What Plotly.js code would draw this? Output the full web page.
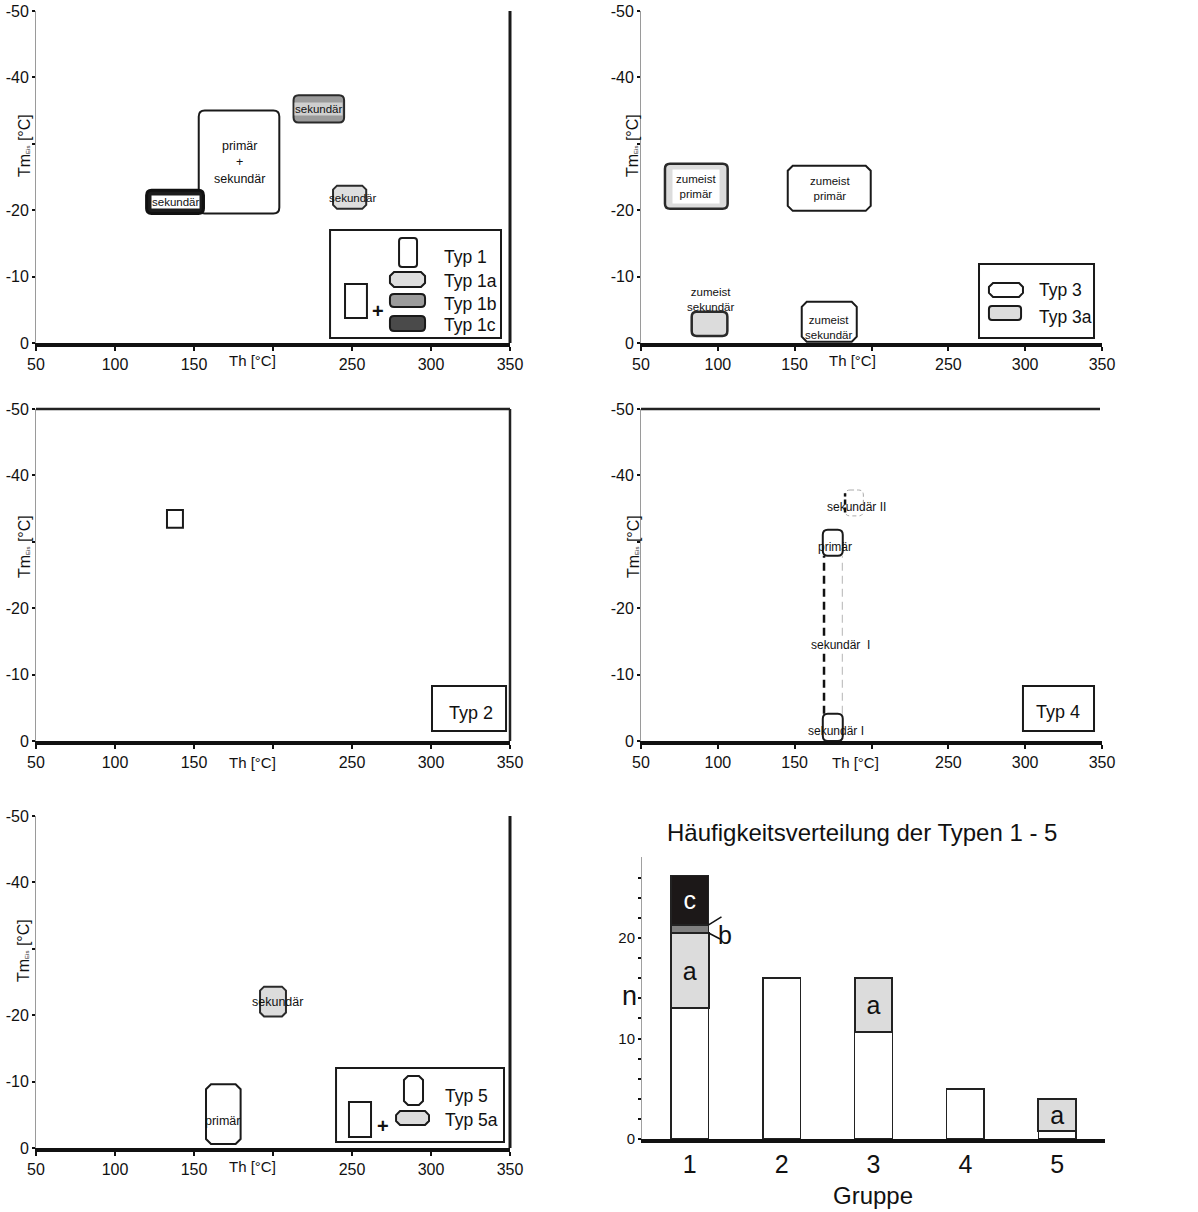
<!DOCTYPE html>
<html><head><meta charset="utf-8">
<script src="https://cdn.plot.ly/plotly-3.0.1.min.js"></script>
<style>body{margin:0;background:#fff}#chart{width:1198px;height:1212px}</style>
</head><body><div id="chart"></div>
<script>
// ---------------- DATA ----------------
// Panel 1 – Typ 1 (Th in °C, Tm_Eis in °C)
const p1Type    = ['1', '1c', '1b', '1a'];
const p1ThMin   = [153, 120, 213, 238];
const p1ThMax   = [204, 156, 245, 259];
const p1TmLow   = [-19.5, -19.5, -33.2, -20.2];
const p1TmHigh  = [-35.0, -23.0, -37.3, -23.7];
const p1Label   = ['primär<br>+<br>sekundär', 'sekundär', 'sekundär', 'sekundär'];
const p1LabelTh = [178.5, 138, 229, 250.5];
const p1LabelTm = [-27.2, -21.2, -35.3, -21.9];

// Panel 2 – Typ 3
const p2Type    = ['3a', '3', '3a', '3'];
const p2ThMin   = [65.6, 145.5, 83.0, 154.6];
const p2ThMax   = [106.4, 199.5, 106.2, 190.4];
const p2TmLow   = [-20.2, -19.9, -1.05, -0.2];
const p2TmHigh  = [-27.0, -26.7, -4.7, -6.2];
const p2Label   = ['zumeist<br>primär', 'zumeist<br>primär', 'zumeist<br>sekundär', 'zumeist<br>sekundär'];
const p2LabelTh = [85.6, 173, 95, 172.2];
const p2LabelTm = [-23.5, -23.2, -6.6, -2.3];

// Panel 3 – Typ 2
const p3ThMin  = [132.9];
const p3ThMax  = [143.0];
const p3TmLow  = [-32.1];
const p3TmHigh = [-34.8];

// Panel 4 – Typ 4
const p4Kind    = ['box', 'column', 'box', 'dashbox'];
const p4ThMin   = [168.3, 169.1, 168.3, 182.8];
const p4ThMax   = [181.3, 181.0, 181.3, 194.7];
const p4TmLow   = [-27.9, -4.1, 0.0, -33.9];
const p4TmHigh  = [-31.8, -27.9, -4.1, -37.8];
const p4Label   = ['primär', 'sekundär  I', 'sekundär I', 'sekundär II'];
const p4LabelTh = [176, 179.6, 177, 190];
const p4LabelTm = [-29.2, -14.5, -1.55, -35.3];

// Panel 5 – Typ 5
const p5Type    = ['5', '5a'];
const p5ThMin   = [157.6, 191.8];
const p5ThMax   = [179.5, 208.2];
const p5TmLow   = [-0.6, -19.8];
const p5TmHigh  = [-9.6, -24.3];
const p5Label   = ['primär', 'sekundär'];
const p5LabelTh = [168, 203];
const p5LabelTm = [-4.1, -22.0];

// Panel 6 – Häufigkeitsverteilung
const groups = [1, 2, 3, 4, 5];
const nBase  = [13.0, 16.0, 10.6, 5.0, 0.8];
const nA     = [7.5, null, 5.4, null, 3.2];
const nB     = [0.8, null, null, null, null];
const nC     = [4.9, null, null, null, null];

const thTicks = [50, 100, 150, 200, 250, 300, 350];
const thTickText = ['50', '100', '150', '', '250', '300', '350'];
const tmTicks = [0, -10, -20, -30, -40, -50];
const tmTickText = ['0', '-10', '-20', '', '-40', '-50'];

// ---------------- HELPERS ----------------
const W = 1198, H = 1212;
const FONT = 'Arial, "Liberation Sans", sans-serif';
const PX = x => x / W, PY = y => 1 - y / H;
const f = v => (+v).toFixed(4);

function boxPath(x0, x1, yA, yB, rx, ry, corner) {
  const s = yB > yA ? 1 : -1, dy = ry * s;
  const c = (cx, cy, px, py) =>
    corner === 'chamfer' ? `L${f(px)},${f(py)}` :
    corner === 'none' ? `L${f(cx)},${f(cy)}L${f(px)},${f(py)}` :
    `Q${f(cx)},${f(cy)} ${f(px)},${f(py)}`;
  return `M${f(x0 + rx)},${f(yA)}L${f(x1 - rx)},${f(yA)}` + c(x1, yA, x1, yA + dy) +
    `L${f(x1)},${f(yB - dy)}` + c(x1, yB, x1 - rx, yB) +
    `L${f(x0 + rx)},${f(yB)}` + c(x0, yB, x0, yB - dy) +
    `L${f(x0)},${f(yA + dy)}` + c(x0, yA, x0 + rx, yA) + 'Z';
}
// pixel-size radius to data units (Th px/unit, Tm px/unit per panel)
const scaleL = {th: 474 / 300, tm: 332 / 50};
const scaleR = {th: 461 / 300, tm: 332 / 50};

const typeStyle = {
  '1':  {fill: '#ffffff', line: '#1a1a1a', w: 2,   corner: 'round',   r: 6},
  '1a': {fill: '#dedede', line: '#2a2a2a', w: 2,   corner: 'chamfer', r: 4},
  '1b': {fill: '#9b9b9b', line: '#2a2a2a', w: 2,   corner: 'round',   r: 5},
  '1c': {fill: '#1c1c1c', line: '#111111', w: 3,   corner: 'round',   r: 5},
  '3':  {fill: '#ffffff', line: '#1a1a1a', w: 2,   corner: 'chamfer', r: 5},
  '3a': {fill: '#dcdcdc', line: '#2a2a2a', w: 2.5, corner: 'round',   r: 5},
  '5':  {fill: '#ffffff', line: '#1a1a1a', w: 2,   corner: 'chamfer', r: 5},
  '5a': {fill: '#dcdcdc', line: '#2a2a2a', w: 2,   corner: 'chamfer', r: 4}
};

const shapes = [];
const annotations = [];

function dataBox(xr, yr, sc, x0, x1, yA, yB, st, extra) {
  shapes.push(Object.assign({
    type: 'path', xref: xr, yref: yr, layer: 'above',
    path: boxPath(x0, x1, yA, yB, st.r / sc.th, st.r / sc.tm, st.corner),
    fillcolor: st.fill, line: {color: st.line, width: st.w}
  }, extra || {}));
}
function label(xr, yr, x, y, text, size, extra) {
  annotations.push(Object.assign({
    xref: xr, yref: yr, x: x, y: y, text: text, showarrow: false,
    font: {family: FONT, size: size, color: '#111'}, align: 'center'
  }, extra || {}));
}
function pxBox(x0, y0, x1, y1, r, corner, fill, lw) {
  shapes.push({
    type: 'path', xref: 'paper', yref: 'paper', layer: 'above',
    path: boxPath(PX(x0), PX(x1), PY(y0), PY(y1), r / W, r / H, corner),
    fillcolor: fill, line: {color: '#1a1a1a', width: lw}
  });
}
function pxText(x, y, text, size, xanchor, extra) {
  annotations.push(Object.assign({
    xref: 'paper', yref: 'paper', x: PX(x), y: PY(y), text: text, showarrow: false,
    xanchor: xanchor || 'center', yanchor: 'middle',
    font: {family: FONT, size: size, color: '#111'}
  }, extra || {}));
}
function pxLine(x0, y0, x1, y1, w, color) {
  shapes.push({type: 'line', xref: 'paper', yref: 'paper', layer: 'above',
    x0: PX(x0), y0: PY(y0), x1: PX(x1), y1: PY(y1), line: {color: color || '#1a1a1a', width: w}});
}

// ---------------- PANEL 1 ----------------
p1Type.forEach((t, i) => dataBox('x', 'y', scaleL, p1ThMin[i], p1ThMax[i], p1TmHigh[i], p1TmLow[i], typeStyle[t]));
p1Label.forEach((t, i) => {
  const bg = p1Type[i] === '1c' ? '#ffffff' : (p1Type[i] === '1b' ? '#cfcfcf' : 'rgba(0,0,0,0)');
  label('x', 'y', p1LabelTh[i], p1LabelTm[i], t, p1Type[i] === '1' ? 12.5 : 11.5, {bgcolor: bg, borderpad: 0});
});

// ---------------- PANEL 2 ----------------
p2Type.forEach((t, i) => dataBox('x2', 'y2', scaleR, p2ThMin[i], p2ThMax[i], p2TmHigh[i], p2TmLow[i], typeStyle[t]));
p2Label.forEach((t, i) => {
  const bg = i === 0 ? '#ffffff' : 'rgba(0,0,0,0)';
  label('x2', 'y2', p2LabelTh[i], p2LabelTm[i], t, 11.5, {bgcolor: bg, borderpad: 3});
});

// ---------------- PANEL 3 ----------------
p3ThMin.forEach((v, i) => dataBox('x3', 'y3', scaleL, p3ThMin[i], p3ThMax[i], p3TmHigh[i], p3TmLow[i],
  {fill: 'rgba(0,0,0,0)', line: '#1a1a1a', w: 2, corner: 'none', r: 0}));

// ---------------- PANEL 4 ----------------
p4Kind.forEach((k, i) => {
  if (k === 'box') {
    dataBox('x4', 'y4', scaleR, p4ThMin[i], p4ThMax[i], p4TmHigh[i], p4TmLow[i],
      {fill: 'rgba(0,0,0,0)', line: '#1a1a1a', w: 2, corner: 'round', r: 5});
  } else if (k === 'column') {
    shapes.push({type: 'line', xref: 'x4', yref: 'y4', layer: 'above', x0: p4ThMin[i], x1: p4ThMin[i],
      y0: p4TmLow[i], y1: p4TmHigh[i], line: {color: '#111', width: 2.5, dash: '8px,5px'}});
    shapes.push({type: 'line', xref: 'x4', yref: 'y4', layer: 'above', x0: p4ThMax[i], x1: p4ThMax[i],
      y0: p4TmLow[i], y1: p4TmHigh[i], line: {color: '#b5b5b5', width: 1, dash: '8px,5px'}});
  } else {
    dataBox('x4', 'y4', scaleR, p4ThMin[i], p4ThMax[i], p4TmHigh[i], p4TmLow[i],
      {fill: 'rgba(0,0,0,0)', line: '#aaaaaa', w: 1, corner: 'round', r: 5}, {line: {color: '#aaaaaa', width: 1, dash: '4px,3px'}});
    shapes.push({type: 'line', xref: 'x4', yref: 'y4', layer: 'above', x0: p4ThMin[i], x1: p4ThMin[i],
      y0: p4TmLow[i] - 0.5, y1: p4TmHigh[i] + 0.5, line: {color: '#111', width: 2.5, dash: '5px,3px'}});
  }
});
p4Label.forEach((t, i) => label('x4', 'y4', p4LabelTh[i], p4LabelTm[i], t, 12,
  {bgcolor: p4Kind[i] === 'column' ? '#ffffff' : 'rgba(0,0,0,0)', borderpad: 0}));

// ---------------- PANEL 5 ----------------
p5Type.forEach((t, i) => dataBox('x5', 'y5', scaleL, p5ThMin[i], p5ThMax[i], p5TmHigh[i], p5TmLow[i], typeStyle[t]));
p5Label.forEach((t, i) => label('x5', 'y5', p5LabelTh[i], p5LabelTm[i], t, 12.5));

// ---------------- PANEL 6 (bars) ----------------
const barBase = {type: 'bar', xaxis: 'x6', yaxis: 'y6', width: 0.41, constraintext: 'none',
  textposition: 'inside', insidetextanchor: 'middle', textangle: 0, hoverinfo: 'skip'};
const traces = [
  Object.assign({}, barBase, {x: groups, y: nBase, marker: {color: '#ffffff', line: {color: '#222', width: 1.5}}}),
  Object.assign({}, barBase, {x: groups, y: nA, text: nA.map(v => v ? 'a' : ''),
    textfont: {family: FONT, size: 25, color: '#111'}, marker: {color: '#dcdcdc', line: {color: '#222', width: 2}}}),
  Object.assign({}, barBase, {x: groups, y: nB, marker: {color: '#808080', line: {color: '#222', width: 1.5}}}),
  Object.assign({}, barBase, {x: groups, y: nC, text: nC.map(v => v ? 'c' : ''),
    textfont: {family: FONT, size: 25, color: '#ffffff'}, marker: {color: '#1c1818', line: {color: '#222', width: 1.5}}})
];
// pointer for "b"
const bBot = nBase[0] + nA[0], bTop = bBot + nB[0], bx = groups[0] + 0.205;
shapes.push({type: 'line', xref: 'x6', yref: 'y6', layer: 'above', x0: bx, y0: bTop, x1: bx + 0.14, y1: bTop + 0.8, line: {color: '#111', width: 1.5}});
shapes.push({type: 'line', xref: 'x6', yref: 'y6', layer: 'above', x0: bx, y0: bBot, x1: bx + 0.125, y1: bBot - 0.6, line: {color: '#111', width: 1.5}});
annotations.push({xref: 'x6', yref: 'y6', x: bx + 0.175, y: bBot - 0.2, text: 'b', showarrow: false,
  font: {family: FONT, size: 25, color: '#111'}});

// ---------------- LEGENDS / FRAMES (pixel layout) ----------------
// Panel 1 legend
pxBox(330, 230, 501, 338, 0, 'none', 'rgba(0,0,0,0)', 2);
pxBox(399, 238, 417, 267, 3, 'round', '#ffffff', 2);
pxBox(390, 272, 425, 287, 4, 'chamfer', typeStyle['1a'].fill, 2);
pxBox(390, 294, 425, 307, 4, 'round', typeStyle['1b'].fill, 2);
pxBox(390, 316, 425, 331, 4, 'round', '#4a4a4a', 2);
pxBox(345, 284, 367, 318, 0, 'none', '#ffffff', 2);
pxText(378, 311, '<b>+</b>', 20);
pxText(442, 257, 'Typ 1', 17.5, 'left');
pxText(442, 281, 'Typ 1a', 17.5, 'left');
pxText(442, 304, 'Typ 1b', 17.5, 'left');
pxText(442, 325, 'Typ 1c', 17.5, 'left');
// Panel 2 legend
pxBox(979, 264, 1094, 338, 0, 'none', 'rgba(0,0,0,0)', 2);
pxBox(989, 283, 1023, 297, 4, 'chamfer', '#ffffff', 2);
pxBox(989, 306, 1021, 320, 3, 'round', '#dcdcdc', 2);
pxText(1037, 290, 'Typ 3', 17.5, 'left');
pxText(1037, 317, 'Typ 3a', 17.5, 'left');
// Panel 3 legend
pxBox(432, 686, 506, 731, 0, 'none', 'rgba(0,0,0,0)', 2);
pxText(471, 713, 'Typ 2', 18);
// Panel 4 legend
pxBox(1023, 686, 1094, 731, 0, 'none', 'rgba(0,0,0,0)', 2);
pxText(1058, 712, 'Typ 4', 18);
// Panel 5 legend
pxBox(336, 1068, 504, 1142, 0, 'none', 'rgba(0,0,0,0)', 2);
pxBox(349, 1102, 371, 1137, 0, 'none', '#ffffff', 2);
pxText(383, 1126, '<b>+</b>', 20);
pxBox(404, 1076, 423, 1105, 4, 'chamfer', '#ffffff', 2);
pxBox(396, 1111, 429, 1125, 4, 'chamfer', '#dcdcdc', 2);
pxText(443, 1096, 'Typ 5', 17.5, 'left');
pxText(443, 1120, 'Typ 5a', 17.5, 'left');

// frames
pxLine(510, 11, 510, 343, 3);
pxLine(36, 409, 510, 409, 2.5, '#222');
pxLine(510, 409, 510, 741, 2.5, '#222');
pxLine(641, 409, 1100, 409, 2.5, '#222');
pxLine(510, 816, 510, 1148, 3);

// axis titles
const tmTitle = 'Tm<span style="font-size:6px">Eis</span> [°C]';
[[25, 146], [633, 146], [24, 547], [633, 547], [23, 951]].forEach(p =>
  pxText(p[0], p[1], tmTitle, 16, 'center', {textangle: -90}));
[[252, 360], [852, 360], [252, 762], [855, 762], [252, 1166]].forEach(p =>
  pxText(p[0], p[1], 'Th [°C]', 15));
pxText(862, 832, 'Häufigkeitsverteilung der Typen 1 - 5', 24);
pxText(873, 1195, 'Gruppe', 24);
pxText(629, 996, 'n', 27);

// ---------------- AXES ----------------
function thAxis(x0, x1, anchor) {
  return {domain: [PX(x0), PX(x1)], range: [50, 350], anchor: anchor, tickvals: thTicks, ticktext: thTickText,
    showgrid: false, zeroline: false, showline: true, linecolor: '#111', linewidth: 4,
    ticks: 'outside', ticklen: 4, tickwidth: 2, tickcolor: '#111',
    tickfont: {family: FONT, size: 16, color: '#111'}, fixedrange: true};
}
function tmAxis(y0, y1, anchor) {
  return {domain: [PY(y1), PY(y0)], range: [0, -50], anchor: anchor, tickvals: tmTicks, ticktext: tmTickText,
    showgrid: false, zeroline: false, showline: true, linecolor: '#9a9a9a', linewidth: 1,
    ticks: 'outside', ticklen: 3, tickwidth: 2, tickcolor: '#111',
    tickfont: {family: FONT, size: 16, color: '#111'}, fixedrange: true};
}
const nTicks = [], nText = [];
for (let v = 0; v <= 26; v += 2) { nTicks.push(v); nText.push(v % 10 === 0 ? String(v) : ''); }

const layout = {
  width: W, height: H, margin: {l: 0, r: 0, t: 0, b: 0},
  paper_bgcolor: '#ffffff', plot_bgcolor: 'rgba(0,0,0,0)', showlegend: false,
  barmode: 'stack', font: {family: FONT, color: '#111'},
  xaxis: thAxis(36, 510, 'y'),   yaxis: tmAxis(11, 343, 'x'),
  xaxis2: thAxis(641, 1102, 'y2'), yaxis2: tmAxis(11, 343, 'x2'),
  xaxis3: thAxis(36, 510, 'y3'),  yaxis3: tmAxis(409, 741, 'x3'),
  xaxis4: thAxis(641, 1102, 'y4'), yaxis4: tmAxis(409, 741, 'x4'),
  xaxis5: thAxis(36, 510, 'y5'),  yaxis5: tmAxis(816, 1148, 'x5'),
  xaxis6: {domain: [PX(642), PX(1105)], range: [0.48, 5.52], anchor: 'y6', tickvals: groups,
    ticktext: groups.map(String), ticks: '', showgrid: false, zeroline: false, showline: true,
    linecolor: '#111', linewidth: 4, tickfont: {family: FONT, size: 25, color: '#111'}, fixedrange: true},
  yaxis6: {domain: [PY(1139), PY(857)], range: [0, 28.06], anchor: 'x6', tickvals: nTicks, ticktext: nText,
    ticks: 'outside', ticklen: 3, tickwidth: 2, tickcolor: '#111', showgrid: false, zeroline: false,
    showline: true, linecolor: '#a0a0a0', linewidth: 1, tickfont: {family: FONT, size: 15, color: '#111'}, fixedrange: true},
  shapes: shapes, annotations: annotations
};
// invisible anchor traces so every subplot is created
const anchors = [1, 2, 3, 4, 5].map(k => ({type: 'scatter', mode: 'markers', x: [], y: [],
  xaxis: k === 1 ? 'x' : 'x' + k, yaxis: k === 1 ? 'y' : 'y' + k, hoverinfo: 'skip'}));
Plotly.newPlot('chart', anchors.concat(traces), layout, {staticPlot: true});
</script></body></html>
